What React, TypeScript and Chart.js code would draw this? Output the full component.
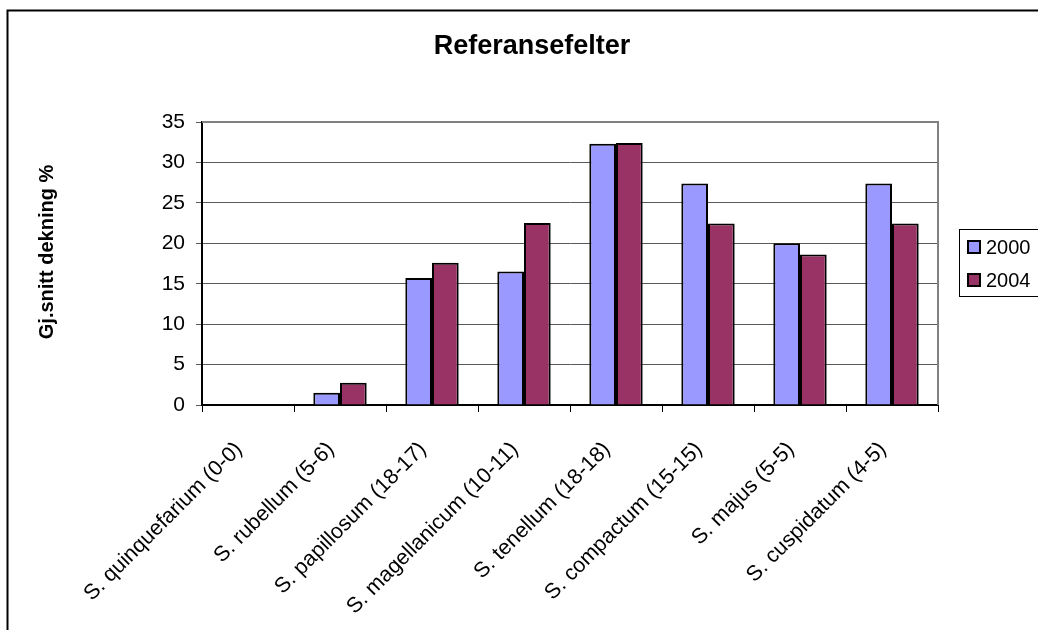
import React, { useEffect, useRef } from "react";
import { Chart, registerables } from "chart.js";

Chart.register(...registerables);

const categories = [
  "S. quinquefarium (0-0)",
  "S. rubellum (5-6)",
  "S. papillosum (18-17)",
  "S. magellanicum (10-11)",
  "S. tenellum (18-18)",
  "S. compactum (15-15)",
  "S. majus (5-5)",
  "S. cuspidatum (4-5)",
];
const seriesNames = ["2000", "2004"];
const values2000 = [0, 1.5, 15.7, 16.5, 32.3, 27.4, 20.0, 27.4];
const values2004 = [0, 2.75, 17.6, 22.5, 32.4, 22.45, 18.6, 22.45];
const yTicks = [0, 5, 10, 15, 20, 25, 30, 35];
const chartTitle = "Referansefelter";
const yTitle = "Gj.snitt dekning %";

const colors = ["#9999FF", "#993366"];
const FONT = "Arial, 'Liberation Sans', sans-serif";

const decorPlugin = {
  id: "decor",
  beforeDraw(chart: any) {
    const { ctx } = chart;
    ctx.save();
    ctx.fillStyle = "#ffffff";
    ctx.fillRect(0, 0, chart.width, chart.height);
    ctx.restore();
  },
  afterDraw(chart: any) {
    const { ctx, chartArea } = chart;
    ctx.save();
    // plot area top/right border (gray)
    ctx.strokeStyle = "#808080";
    ctx.lineWidth = 2;
    ctx.beginPath();
    ctx.moveTo(chartArea.left, chartArea.top);
    ctx.lineTo(chartArea.right, chartArea.top);
    ctx.lineTo(chartArea.right, chartArea.bottom);
    ctx.stroke();
    // outer border
    ctx.strokeStyle = "#000000";
    ctx.lineWidth = 2;
    ctx.beginPath();
    ctx.moveTo(chart.width + 5, 10.5);
    ctx.lineTo(7.5, 10.5);
    ctx.lineTo(7.5, chart.height + 5);
    ctx.stroke();
    // title
    ctx.fillStyle = "#000000";
    ctx.font = "bold 27px " + FONT;
    ctx.textAlign = "center";
    ctx.textBaseline = "middle";
    ctx.fillText(chartTitle, 532, 47);
    // y title
    ctx.save();
    ctx.translate(47, 252);
    ctx.rotate(-Math.PI / 2);
    ctx.font = "bold 20px " + FONT;
    ctx.fillText(yTitle, 0, 0);
    ctx.restore();
    // legend
    ctx.strokeStyle = "#000000";
    ctx.lineWidth = 1;
    ctx.strokeRect(959.5, 229.5, 100, 67);
    ctx.font = "20px " + FONT;
    ctx.textAlign = "left";
    ctx.textBaseline = "middle";
    const rows = [247, 280];
    seriesNames.forEach((name, i) => {
      const cy = rows[i];
      ctx.fillStyle = colors[i];
      ctx.fillRect(967, cy - 7, 14, 14);
      ctx.lineWidth = 2;
      ctx.strokeStyle = "#000000";
      ctx.strokeRect(968, cy - 6, 12, 12);
      ctx.fillStyle = "#000000";
      ctx.fillText(name, 986, cy + 1);
    });
    ctx.restore();
  },
};

export default function App() {
  const ref = useRef<HTMLCanvasElement | null>(null);
  useEffect(() => {
    if (!ref.current) return;
    const chart = new Chart(ref.current, {
      type: "bar",
      data: {
        labels: categories,
        datasets: [
          {
            label: seriesNames[0],
            data: values2000,
            backgroundColor: colors[0],
            borderColor: "#000000",
            borderWidth: 2,
          },
          {
            label: seriesNames[1],
            data: values2004,
            backgroundColor: colors[1],
            borderColor: "#000000",
            borderWidth: 2,
          },
        ],
      },
      options: {
        responsive: false,
        animation: false,
        events: [],
        layout: { padding: { left: 0, top: 122, right: 100, bottom: 0 } },
        datasets: { bar: { categoryPercentage: 0.58, barPercentage: 1 } },
        plugins: {
          legend: { display: false },
          title: { display: false },
          tooltip: { enabled: false },
        },
        scales: {
          x: {
            afterFit: (s: any) => {
              s.height = 225;
            },
            grid: {
              offset: true,
              drawOnChartArea: false,
              drawTicks: true,
              tickLength: 7,
              color: "#000000",
              lineWidth: 1,
            },
            border: { color: "#000000", width: 2 },
            ticks: {
              autoSkip: false,
              minRotation: 45,
              maxRotation: 45,
              color: "#000000",
              font: { family: FONT, size: 21.5 },
              padding: 25,
              labelOffset: -9,
            },
          },
          y: {
            min: 0,
            max: 35,
            afterFit: (s: any) => {
              s.width = 202;
            },
            afterBuildTicks: (s: any) => {
              s.ticks = yTicks.map((v) => ({ value: v }));
            },
            grid: {
              color: "#5a5a5a",
              lineWidth: 1,
              tickLength: 6,
              drawTicks: true,
            },
            border: { color: "#000000", width: 2 },
            ticks: {
              color: "#000000",
              font: { family: FONT, size: 21 },
              padding: 11,
            },
          },
        },
      },
      plugins: [decorPlugin],
    });
    return () => chart.destroy();
  }, []);
  return (
    <div style={{ position: "fixed", left: 0, top: 0, width: 1038, height: 630 }}>
      <canvas ref={ref} width={1038} height={630} />
    </div>
  );
}
